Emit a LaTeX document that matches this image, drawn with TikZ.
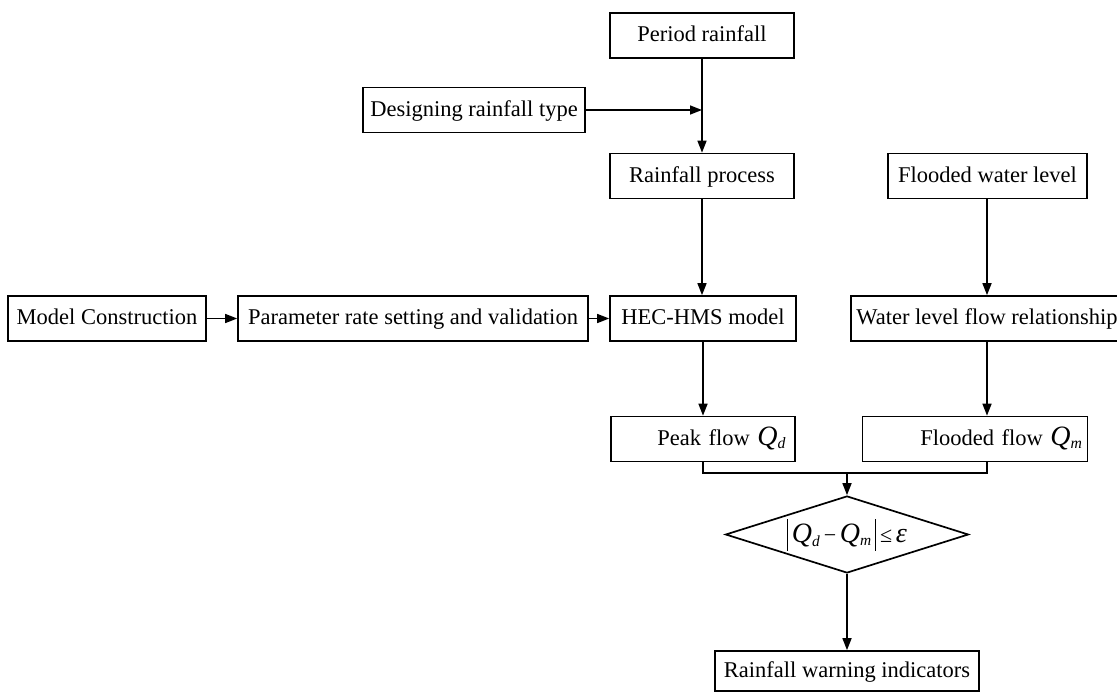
\documentclass[tikz,border=0pt]{standalone}
\usepackage{amsmath}
\usepackage{fontspec}
\setmainfont{Liberation Serif}
\usetikzlibrary{shapes.geometric,arrows.meta,positioning,calc}

\newcommand{\flowQ}[1]{{\fontsize{28}{28}\selectfont\itshape Q}\textsubscript{\itshape #1}}
\newcommand{\absbar}{\rule[-8pt]{0.9pt}{32pt}}

\begin{document}
\begin{tikzpicture}[
    x=1pt, y=-1pt,
    box/.style={rectangle, draw, line width=1.7pt, minimum height=45pt, inner sep=4pt, text height=16pt, text depth=4pt, font=\fontsize{22.5}{26}\selectfont, align=center},
    rbox/.style={box, align=right},
    decision/.style={diamond, draw, line width=1.7pt, shape aspect=3.2, inner sep=0pt, minimum width=243pt, minimum height=77pt, font=\fontsize{22}{26}\selectfont},
    arrow/.style={-{Triangle[length=12pt,width=9pt]}, line width=1.6pt},
    link/.style={line width=1.6pt}
]
    \useasboundingbox[fill=white] (0,0) rectangle (1117,693);

    % Rainfall branch
    \node[box, minimum width=184pt] (period) at (702,35.5) {Period rainfall};
    \node[box, minimum width=222pt] (design) at (474,110) {Designing rainfall type};
    \node[box, minimum width=184pt] (rainproc) at (702,176) {Rainfall process};
    \node[box, minimum width=199pt] (floodlvl) at (987.5,176) {Flooded water level};

    % Model row
    \node[box, minimum width=198pt] (model) at (107,318.5) {Model Construction};
    \node[box, minimum width=350pt] (param) at (413,318.5) {Parameter rate setting and validation};
    \node[box, minimum width=186pt] (hms) at (703,318.5) {HEC-HMS model};
    \node[box, minimum width=272pt] (lvlflow) at (987,318.5) {Water level flow relationship};

    % Flows
    \node[rbox, text width=166pt, inner xsep=9pt] (peak) at (703,439) {Peak flow \flowQ{d}};
    \node[rbox, text width=215pt, inner xsep=5pt] (floodflow) at (975,439) {Flooded flow \flowQ{m}};

    % Check and result
    \node[decision] (check) at (847,534.5) {\absbar\,\flowQ{d}\,−\,\flowQ{m}\,\absbar\,≤\,{\fontsize{28}{28}\selectfont\itshape ε}};
    \node[box, minimum width=264pt, minimum height=40pt] (warn) at (847,671) {Rainfall warning indicators};

    \coordinate (join) at (847,473);

    \draw[arrow] (period.south) -- (rainproc.north);
    \draw[arrow] (design.east) -- (design.east -| period.south);
    \draw[arrow] (rainproc.south) -- (rainproc.south |- hms.north);
    \draw[arrow] (floodlvl.south -| lvlflow.north) -- (lvlflow.north);
    \draw[arrow] (model) -- (param);
    \draw[arrow] (param) -- (hms);
    \draw[arrow] (hms) -- (hms.south |- peak.north);
    \draw[arrow] (lvlflow.south) -- (lvlflow.south |- floodflow.north);
    \draw[link] (peak.south) |- (join) -| (lvlflow.south |- floodflow.south);
    \draw[arrow] (join) -- (check.north);
    \draw[arrow] (check) -- (warn);
\end{tikzpicture}
\end{document}
